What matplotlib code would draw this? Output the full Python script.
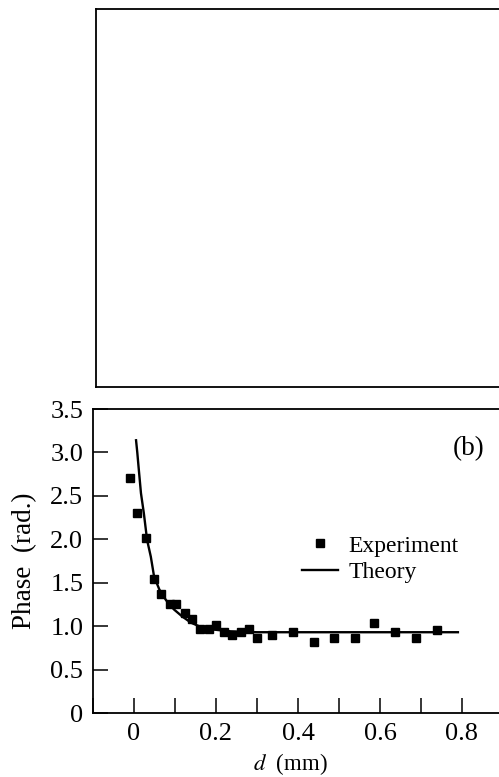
import matplotlib
matplotlib.use("Agg")
import matplotlib.pyplot as plt
from matplotlib.ticker import MultipleLocator, FuncFormatter

exp_d = [-0.01, 0.007, 0.03, 0.049, 0.067, 0.087, 0.103, 0.125, 0.142, 0.16,
         0.182, 0.20, 0.22, 0.238, 0.26, 0.281, 0.299, 0.337, 0.388, 0.44,
         0.487, 0.54, 0.586, 0.637, 0.689, 0.738]
exp_phase = [2.71, 2.30, 2.02, 1.54, 1.37, 1.26, 1.26, 1.15, 1.08, 0.97,
             0.97, 1.01, 0.93, 0.90, 0.93, 0.97, 0.86, 0.90, 0.93, 0.82,
             0.86, 0.86, 1.04, 0.93, 0.86, 0.95]

# theory curve
th_d = [0.005, 0.008, 0.011, 0.017, 0.024, 0.032, 0.041, 0.049, 0.062, 0.078,
        0.098, 0.118, 0.139, 0.163, 0.195, 0.236, 0.30, 0.40, 0.50, 0.60,
        0.70, 0.79]
th_phase = [3.14, 3.00, 2.84, 2.53, 2.30, 1.99, 1.80, 1.57, 1.42, 1.30,
            1.19, 1.11, 1.04, 0.99, 0.96, 0.94, 0.93, 0.93, 0.93, 0.93,
            0.93, 0.93]

plt.rcParams["font.family"] = ["Liberation Serif", "DejaVu Serif"]
plt.rcParams["mathtext.fontset"] = "stix"

W, H = 499, 777
fig = plt.figure(figsize=(W / 100, H / 100), dpi=100)

# empty upper panel (a)
top = fig.add_axes([96 / W, (H - 387) / H, 0.82, (387 - 9) / H])
top.set_xticks([])
top.set_yticks([])
for s in top.spines.values():
    s.set_linewidth(1.3)

# lower panel (b)
ax = fig.add_axes([93 / W, (H - 713) / H, 410 / W, 304 / H])
ax.plot(exp_d, exp_phase, "s", color="black", markersize=5.5, label="Experiment")
ax.plot(th_d, th_phase, "-", color="black", linewidth=1.7, label="Theory")

ax.set_xlim(-0.1, 0.9)
ax.set_ylim(0, 3.5)
ax.xaxis.set_major_locator(MultipleLocator(0.2))
ax.xaxis.set_minor_locator(MultipleLocator(0.1))
ax.yaxis.set_major_locator(MultipleLocator(0.5))
fmt = FuncFormatter(lambda v, p: "0" if abs(v) < 1e-9 else f"{v:.1f}")
ax.xaxis.set_major_formatter(fmt)
ax.yaxis.set_major_formatter(fmt)
ax.tick_params(which="both", direction="in", length=11, width=1.1,
               labelsize=19, top=False, right=False)
ax.tick_params(axis="x", pad=7)
ax.tick_params(axis="y", pad=7)
for s in ax.spines.values():
    s.set_linewidth(1.3)

ax.set_xlabel("$d$  (mm)", fontsize=16.5)
ax.xaxis.set_label_coords(0.482, -0.124)
ax.set_ylabel("Phase  (rad.)", fontsize=19.5)
ax.yaxis.set_label_coords(-0.136, 0.5)
ax.text(0.955, 0.87, "(b)", transform=ax.transAxes, fontsize=19.5,
        ha="right", va="center")

ax.legend(loc="upper left", bbox_to_anchor=(0.51, 0.585), frameon=False,
          fontsize=17, handlelength=1.5, handletextpad=0.47, borderpad=0,
          borderaxespad=0, labelspacing=0.22, markerscale=1.0)

fig.savefig("out.png", dpi=100)
